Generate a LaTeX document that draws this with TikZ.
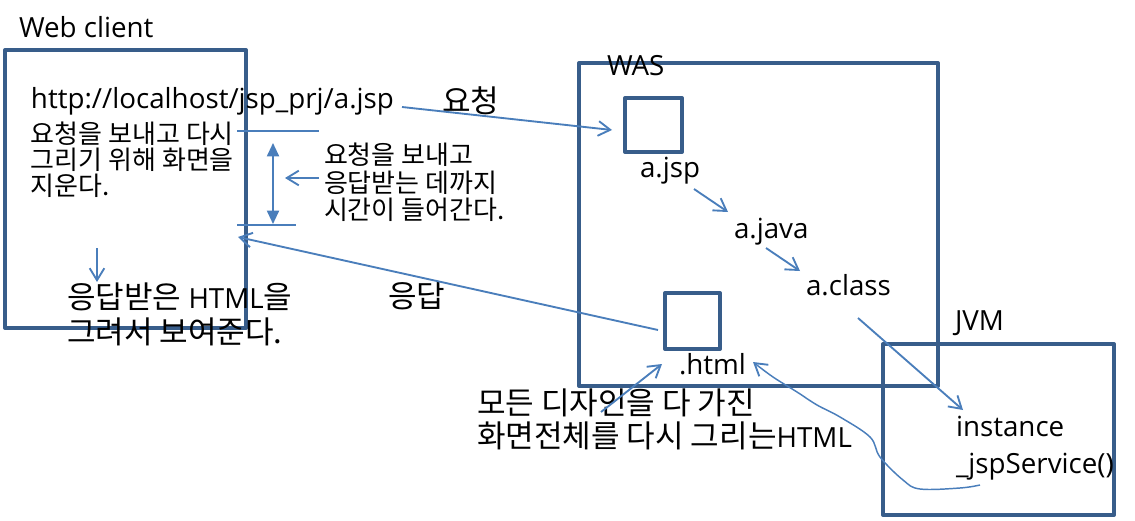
\documentclass[tikz,border=0pt]{standalone}
\usepackage{fontspec}
\setmainfont{Open Sans}
\newfontfamily\kr{Noto Sans CJK KR}[Scale=1.12]
\usetikzlibrary{arrows.meta}
\definecolor{boxc}{RGB}{56,93,138}
\definecolor{linec}{RGB}{74,126,187}
\begin{document}
\begin{tikzpicture}[x=0.75pt,y=-0.75pt,
  frame/.style={draw=boxc,line width=3pt,line join=round,inner sep=0pt,outer sep=0pt},
  conn/.style={draw=linec,line width=1.4pt,-{Straight Barb[length=9pt,width=11pt,line width=1.4pt]}},
  thin/.style={draw=linec,line width=1.1pt},
  big/.style={font=\fontsize{20.8}{26}\selectfont,inner sep=0pt,outer sep=0pt,align=left},
  small/.style={font=\fontsize{17.4}{19.6}\selectfont\kr,inner sep=0pt,outer sep=0pt,align=left}]
\useasboundingbox (0,0) rectangle (1135,521);

% boxes
\node[frame,minimum width=180.75pt,minimum height=208.5pt] (web) at (125.5,189) {};
\node[frame,minimum width=173.25pt,minimum height=128.25pt] (jvm) at (998.5,429.5) {};
\node[frame,minimum width=269.25pt,minimum height=242.25pt] (was) at (758.5,224.5) {};
\node[frame,minimum width=42.75pt,minimum height=40.5pt] (jspbox) at (653.5,125) {};
\node[frame,minimum width=41.25pt,minimum height=42pt] (htmlbox) at (692.5,321) {};

% texts
\node[big,anchor=base west] (webt) at (19,37) {Web client};
\node[big,anchor=base west] (url) at (31,108) {http://localhost/jsp\_prj/a.jsp};
\node[small,anchor=north west] (clear) at (31,122) {요청을 보내고 다시\\그리기 위해 화면을\\지운다.};
\node[small,anchor=north west,font=\fontsize{17.4}{20.6}\selectfont\kr] (wait) at (324,143) {요청을 보내고\\응답받는 데까지\\시간이 들어간다.};
\node[big,anchor=north west,font=\fontsize{20.8}{26}\selectfont] (draw) at (67,283) {{\kr 응답받은} HTML{\kr 을}\\{\kr 그려서 보여준다.}};
\node[big,anchor=north west] (req) at (442,87) {\kr 요청};
\node[big,anchor=north west] (resp) at (388,282) {\kr 응답};
\node[big,anchor=base west] (wast) at (607,75) {WAS};
\node[big,anchor=base west] (ajsp) at (640,177) {a.jsp};
\node[big,anchor=base west] (ajava) at (734,238) {a.java};
\node[big,anchor=base west] (aclass) at (806,295) {a.class};
\node[big,anchor=base west] (html) at (679,374) {.html};
\node[big,anchor=base west] (jvmt) at (955,330) {JVM};
\node[big,anchor=base west] (inst) at (956,436) {instance};
\node[big,anchor=base west] (svc) at (956,473) {\_jspService()};
\node[big,anchor=north west,font=\fontsize{20.8}{24.5}\selectfont] (design) at (477,389) {{\kr 모든 디자인을 다 가진}\\{\kr 화면전체를 다시 그리는}HTML};

% connector end points
\coordinate (reqS) at (402,107);   \coordinate (reqE) at (612,130);
\coordinate (j1S) at (694,189);    \coordinate (j1E) at (728,212);
\coordinate (j2S) at (766,248);    \coordinate (j2E) at (800,271);
\coordinate (cS) at (858,318);     \coordinate (cE) at (963,410);
\coordinate (rS) at (658,330);     \coordinate (rE) at (238,237);
\coordinate (dS) at (601,412);     \coordinate (dE) at (662,364);
\coordinate (downS) at (97,248);   \coordinate (downE) at (97,282);
\coordinate (lS) at (319,178);     \coordinate (lE) at (285,178);
\coordinate (vT) at (273,143);     \coordinate (vB) at (273,224);
\coordinate (h1a) at (237,131);    \coordinate (h1b) at (319,131);
\coordinate (h2a) at (237,225);    \coordinate (h2b) at (296,225);

\draw[conn] (reqS) -- (reqE);
\draw[conn] (j1S) -- (j1E);
\draw[conn] (j2S) -- (j2E);
\draw[conn] (cS) -- (cE);
\draw[conn] (rS) -- (rE);
\draw[conn] (dS) -- (dE);
\draw[conn,line width=1.1pt] (downS) -- (downE);
\draw[conn] (lS) -- (lE);
\draw[thin,line width=1.4pt,{Triangle[length=10pt,width=9pt]}-{Triangle[length=10pt,width=9pt]}] (vT) -- (vB);
\draw[thin,line width=1.4pt] (h1a) -- (h1b);
\draw[thin,line width=1.4pt] (h2a) -- (h2b);
\draw[conn,line width=1.1pt] plot[smooth,tension=0.6] coordinates {(980,485) (960,488) (920,489) (903,480) (880,457) (870,437) (840,417) (817,405) (797,392) (773,377) (753,362)};
\end{tikzpicture}
\end{document}
